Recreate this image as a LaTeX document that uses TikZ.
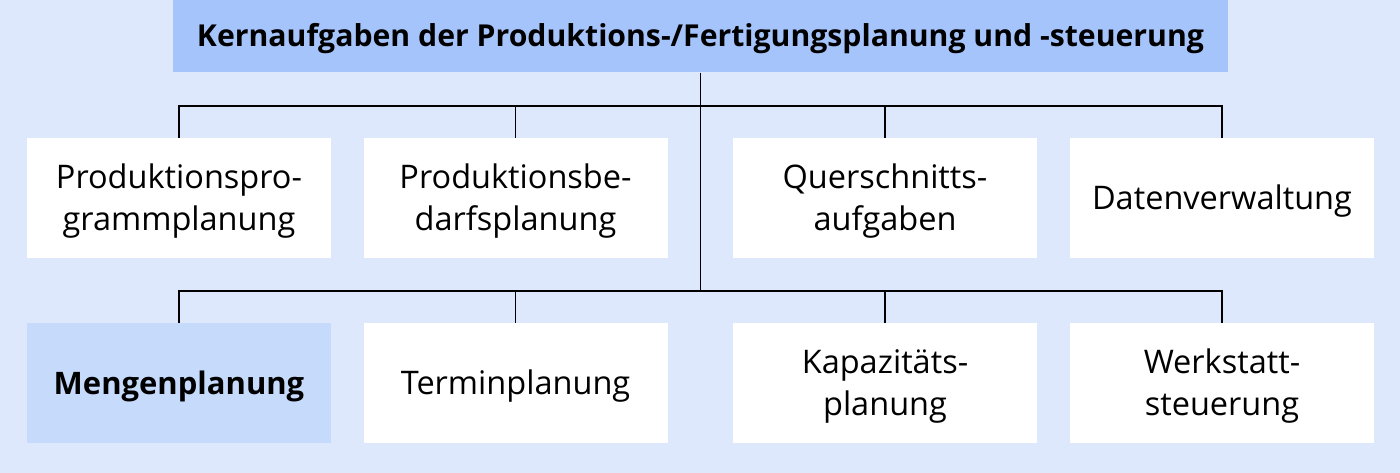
\documentclass[tikz,border=0pt]{standalone}
\usepackage{fontspec}
\setmainfont{Open Sans}
\definecolor{bgblue}{HTML}{DDE8FD}
\definecolor{titleblue}{HTML}{A6C4FC}
\definecolor{hiblue}{HTML}{C6DAFC}
\newcommand\lowtext[2]{\raisebox{-#1}[\height][\depth]{\begin{tabular}{@{}c@{}}#2\end{tabular}}}
\begin{document}
\begin{tikzpicture}[x=1pt,y=-1pt,
  box/.style={fill=white,draw=none,minimum width=304pt,minimum height=120pt,inner sep=0pt,align=center,font=\fontsize{32.5}{42}\selectfont},
  hibox/.style={box,fill=hiblue,font=\fontsize{31}{42}\selectfont\bfseries},
  titlebox/.style={fill=titleblue,draw=none,minimum width=1055pt,minimum height=72.5pt,inner sep=0pt,font=\fontsize{30.2}{42}\selectfont\bfseries},
  conn/.style={draw=black,line width=1.2pt}]
\fill[bgblue] (0,0) rectangle (1400,473);
\useasboundingbox (0,0) rectangle (1400,473);
\node[titlebox] (title) at (700.5,36.25) {\lowtext{1.5pt}{Kernaufgaben der Produktions-/Fertigungsplanung und -steuerung}};
\node[box] (a1) at (179,198) {\lowtext{3pt}{Produktionspro-\\grammplanung}};
\node[box] (a2) at (515.5,198) {\lowtext{3pt}{Produktionsbe-\\darfsplanung}};
\node[box] (a3) at (885,198) {\lowtext{3pt}{Querschnitts-\\aufgaben}};
\node[box] (a4) at (1222,198) {\lowtext{3.5pt}{Datenverwaltung}};
\node[hibox] (b1) at (179,383) {\lowtext{3.5pt}{Mengenplanung}};
\node[box] (b2) at (515.5,383) {\lowtext{3.5pt}{Terminplanung}};
\node[box] (b3) at (885,383) {\lowtext{3pt}{Kapazitäts-\\planung}};
\node[box] (b4) at (1222,383) {\lowtext{3pt}{Werkstatt-\\steuerung}};
\coordinate (j1) at (700.5,106);
\coordinate (j2) at (700.5,291);
\draw[conn] (title.south) -- (j2);
\draw[conn] (a1.north) -- (a1.north |- j1) -- (a4.north |- j1) -- (a4.north);
\draw[conn] (a2.north) -- (a2.north |- j1);
\draw[conn] (a3.north) -- (a3.north |- j1);
\draw[conn] (b1.north) -- (b1.north |- j2) -- (b4.north |- j2) -- (b4.north);
\draw[conn] (b2.north) -- (b2.north |- j2);
\draw[conn] (b3.north) -- (b3.north |- j2);
\end{tikzpicture}
\end{document}
